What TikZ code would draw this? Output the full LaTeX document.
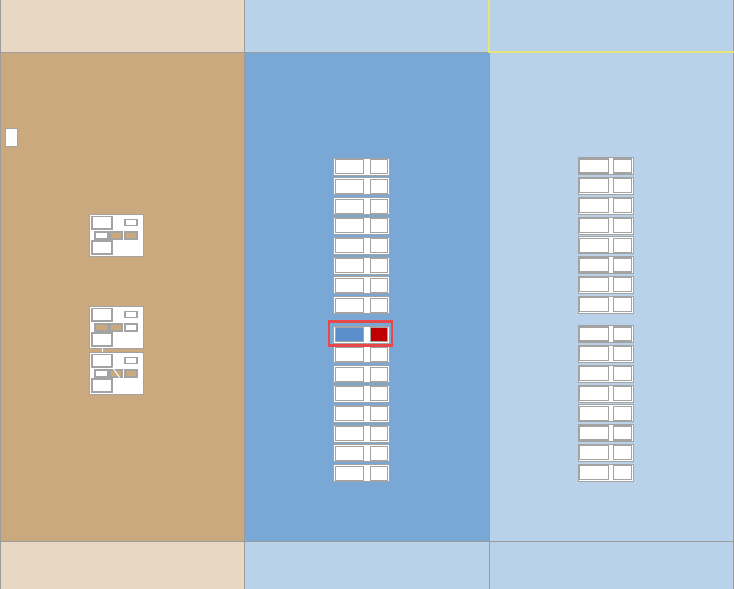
\documentclass[tikz,border=0pt]{standalone}
\usepackage{tikz}
\usetikzlibrary{positioning,calc,backgrounds}
\definecolor{tanhead}{HTML}{E8D8C3}
\definecolor{tanbody}{HTML}{CAA97E}
\definecolor{bluehead}{HTML}{BAD1EA}
\definecolor{bluebody}{HTML}{79A7D6}
\definecolor{gridline}{HTML}{9C9C9C}
\definecolor{boxline}{HTML}{A3A3A3}
\definecolor{selblue}{HTML}{5B8FCB}
\definecolor{selred}{HTML}{C00000}
\definecolor{markred}{HTML}{E8484A}
\definecolor{cellmark}{HTML}{E6E677}

\tikzset{
  panel/.style={draw=boxline, fill=white, line width=0.8pt, inner sep=0,
    minimum width=54pt, minimum height=42pt},
  field/.style={draw=boxline, fill=white, line width=1.1pt, inner sep=0},
  rowbox/.style={draw=boxline, fill=white, line width=0.8pt, inner sep=0,
    minimum height=17pt},
  selmark/.style={draw=markred, line width=2.8pt, inner sep=0,
    minimum width=63pt, minimum height=24pt},
  link/.style={white, line width=1pt}
}

\begin{document}
\begin{tikzpicture}[x=1pt,y=-1pt]
        \useasboundingbox (0,0) rectangle (734,589);

        % Lanes
        \fill[tanhead] (0,0) rectangle (244,52);
        \fill[tanbody] (0,52) rectangle (244,541);
        \fill[tanhead] (0,541) rectangle (244,589);
        \fill[bluehead] (244,0) rectangle (489,52);
        \fill[bluebody] (244,52) rectangle (489,541);
        \fill[bluehead] (244,541) rectangle (489,589);
        \fill[bluehead] (489,0) rectangle (734,589);

        % Grid lines
        \draw[gridline, line width=1pt] (0,52) -- (734,52)
        (0,541) -- (734,541)
        (244,0) -- (244,589)
        (489,0) -- (489,589)
        (0.5,0) -- (0.5,589)
        (733.5,0) -- (733.5,589);
        \draw[cellmark, line width=1.5pt] (489,0) -- (489,52) -- (734,52);

        % Note
        \node[field, line width=0.8pt, minimum width=12pt, minimum height=18pt]
        (note) at (11,137) {};

        % Forms in the left lane
        \foreach \n/\y/\fc/\fd/\fe in {1/214/white/tanbody/tanbody,
                                       2/306/tanbody/tanbody/white,
                                       3/352/white/tanbody/tanbody}{
          \node[panel, anchor=north west] (form\n) at (89,\y) {};
          \node[field, minimum width=20pt, minimum height=12.5pt]
          (form\n a) at (102,\y+8.75) {};
          \node[field, minimum width=12pt, minimum height=6pt]
          (form\n b) at (131,\y+8.5) {};
          \node[field, fill=\fc, minimum width=13pt, minimum height=7pt]
          (form\n c) at (101.5,\y+21.5) {};
          \node[field, fill=\fd, minimum width=12pt, minimum height=7pt]
          (form\n d) at (116,\y+21.5) {};
          \node[field, fill=\fe, minimum width=12pt, minimum height=7pt]
          (form\n e) at (131,\y+21.5) {};
          \node[field, minimum width=20pt, minimum height=13pt]
          (form\n f) at (102,\y+33.5) {};
        }
        \draw[link] (form2f.south) -- (form2f.south |- form3.north);
        \draw[link] (form3a.south east) -- ([xshift=-3]form3d.south east);

        % Rows in the middle lane
        \foreach \i in {0,...,7}{
          \node[rowbox, minimum width=56pt] (mid-1-\i) at (361,166.5+19.8*\i) {};
          \node[field, minimum width=28pt, minimum height=14pt, anchor=west]
          (mid-1-\i-a) at ([xshift=2]mid-1-\i.west) {};
          \node[field, minimum width=17pt, minimum height=14pt, anchor=east]
          (mid-1-\i-b) at ([xshift=-1.5]mid-1-\i.east) {};
        }
        \node[rowbox, minimum width=56pt] (mid-2-0) at (361,334.5) {};
        \node[field, fill=selblue, minimum width=28pt, minimum height=14pt, anchor=west]
        (mid-2-0-a) at ([xshift=2]mid-2-0.west) {};
        \node[field, fill=selred, minimum width=17pt, minimum height=14pt, anchor=east]
        (mid-2-0-b) at ([xshift=-1.5]mid-2-0.east) {};
        \foreach \i in {1,...,7}{
          \node[rowbox, minimum width=56pt] (mid-2-\i) at (361,334.5+19.8*\i) {};
          \node[field, minimum width=28pt, minimum height=14pt, anchor=west]
          (mid-2-\i-a) at ([xshift=2]mid-2-\i.west) {};
          \node[field, minimum width=17pt, minimum height=14pt, anchor=east]
          (mid-2-\i-b) at ([xshift=-1.5]mid-2-\i.east) {};
        }
        \node[selmark] (sel) at (360.5,333.5) {};

        % Rows in the right lane
        \foreach \g/\y in {1/166,2/334}{
          \foreach \i in {0,...,7}{
            \node[rowbox, minimum width=55pt] (right-\g-\i) at (605.5,\y+19.8*\i) {};
            \node[field, minimum width=29pt, minimum height=14pt, anchor=west]
            (right-\g-\i-a) at ([xshift=1]right-\g-\i.west) {};
            \node[field, minimum width=18pt, minimum height=14pt, anchor=east]
            (right-\g-\i-b) at ([xshift=-1]right-\g-\i.east) {};
          }
        }
    \end{tikzpicture}
\end{document}
